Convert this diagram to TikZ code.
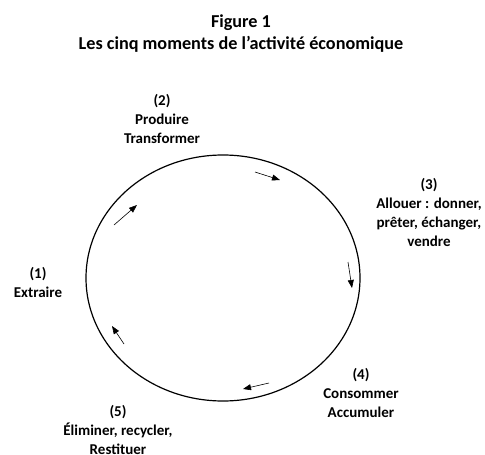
\documentclass[tikz,border=0pt]{standalone}
\usepackage{fontspec}
\setmainfont{Carlito}
\usetikzlibrary{arrows.meta}
\begin{document}
\begin{tikzpicture}[x=1pt,y=-1pt,
  lbl/.style={font=\bfseries\fontsize{15}{19}\selectfont, align=center, inner sep=0pt},
  ttl/.style={font=\bfseries\fontsize{18.2}{22}\selectfont, align=center, inner sep=0pt},
  flow/.style={-{Triangle[length=8pt,width=6pt]}, line width=0.6pt}]
\useasboundingbox (0,0) rectangle (485,455);
\node[ttl] (title) at (241,34) {Figure 1\\Les cinq moments de l’activité économique};
\draw[line width=1.2pt] (223,278) ellipse [x radius=137, y radius=123];
\node[lbl] (m1) at (38,282) {(1)\\Extraire};
\node[lbl] (m2) at (162,119) {(2)\\Produire\\Transformer};
\node[lbl] (m3) at (429,212) {(3)\\Allouer : donner,\\prêter, échanger,\\vendre};
\node[lbl] (m4) at (361,393) {(4)\\Consommer\\Accumuler};
\node[lbl] (m5) at (118,430) {(5)\\Éliminer, recycler,\\Restituer};
\coordinate (a1s) at (114,225); \coordinate (a1e) at (137,205);
\coordinate (a2s) at (255,172); \coordinate (a2e) at (280,180);
\coordinate (a3s) at (348,262); \coordinate (a3e) at (352,288);
\coordinate (a4s) at (269,383); \coordinate (a4e) at (243,389);
\coordinate (a5s) at (124,344); \coordinate (a5e) at (112,326);
\draw[flow] (a1s) -- (a1e);
\draw[flow] (a2s) -- (a2e);
\draw[flow] (a3s) -- (a3e);
\draw[flow] (a4s) -- (a4e);
\draw[flow] (a5s) -- (a5e);
\end{tikzpicture}
\end{document}
